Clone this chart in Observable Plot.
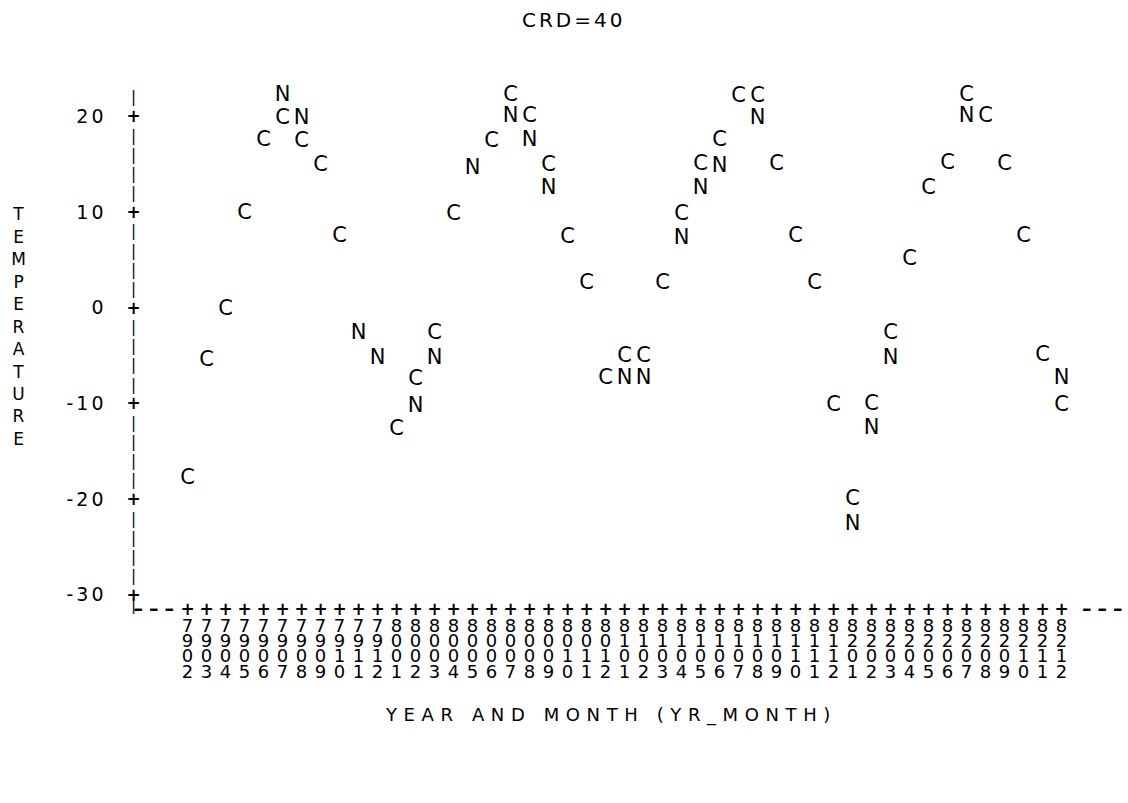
<!DOCTYPE html>
<html>
<head>
<meta charset="utf-8">
<script src="https://cdn.jsdelivr.net/npm/d3@7"></script>
<script src="https://cdn.jsdelivr.net/npm/@observablehq/plot@0.6"></script>
<style>
  html, body { margin: 0; padding: 0; background: #fff; }
  body { width: 1128px; height: 803px; overflow: hidden; font-family: "DejaVu Sans", sans-serif; color: #000; }
  #title { height: 40px; line-height: 40px; font-size: 20px; letter-spacing: 3px; padding-left: 522px; }
  #xlabel { margin-top: 19px; line-height: 24px; font-size: 18px; letter-spacing: 6.6px; padding-left: 386px; white-space: nowrap; }
  svg { display: block; }
</style>
</head>
<body>
<div id="title">CRD=40</div>
<div id="chart"></div>
<div id="xlabel">YEAR AND MONTH (YR_MONTH)</div>
<script>
// Monthly observations, Feb 1979 – Dec 1982 (YYMM)
const months = [
  "7902","7903","7904","7905","7906","7907","7908","7909","7910","7911","7912",
  "8001","8002","8003","8004","8005","8006","8007","8008","8009","8010","8011","8012",
  "8101","8102","8103","8104","8105","8106","8107","8108","8109","8110","8111","8112",
  "8201","8202","8203","8204","8205","8206","8207","8208","8209","8210","8211","8212"
];

// Temperature plotted with symbol C
const cTemp = [
  -17.7, -5.3, 0.0, 10.0, 17.7, 20.0, 17.5, 15.0, 7.6, null, null,
  -12.5, -7.3, -2.5, 9.9, null, 17.5, 22.4, 20.2, 15.0, 7.5, 2.7, -7.2,
  -4.9, -4.9, 2.7, 9.9, 15.1, 17.6, 22.2, 22.2, 15.1, 7.6, 2.7, -10.0,
  -19.9, -9.9, -2.5, 5.2, 12.6, 15.2, 22.4, 20.2, 15.1, 7.6, -4.8, -10.0
];

// Temperature plotted with symbol N
const nTemp = [
  null, null, null, null, null, 22.4, 20.0, null, null, -2.5, -5.1,
  null, -10.1, -5.1, null, 14.7, null, 20.2, 17.6, 12.6, null, null, null,
  -7.2, -7.2, null, 7.4, 12.6, 14.9, null, 19.9, null, null, null, null,
  -22.5, -12.4, -5.1, null, null, null, 20.2, null, null, null, null, -7.2
];

const yTicks = [20, 10, 0, -10, -20, -30];
const yLabel = "TEMPERATURE";

const rows = months.map((m, i) => ({month: m, c: cTemp[i], n: nTemp[i]}));

// printer-style axis: a "|" on every line between the "+" ticks, one more below -30
const axisLines = [-31, ...d3.range(-28, 24, 2).filter(v => v % 10 !== 0)];

const font = "DejaVu Sans";

const chart = Plot.plot({
  width: 1128,
  height: 644,
  marginLeft: 133,
  marginRight: 0,
  marginTop: 38,
  marginBottom: 70,
  style: {fontFamily: font, fontSize: "19px", color: "#000", background: "#fff"},
  x: {type: "point", domain: months, padding: 0, insetLeft: 54, insetRight: 67},
  y: {domain: [-32, 24]},
  marks: [
    // horizontal axis: dashes at both ends, a "+" on every month
    Plot.text(["–––"], {frameAnchor: "bottom-left", textAnchor: "start", fontSize: 19, fontWeight: "bold"}),
    Plot.text(["–––"], {frameAnchor: "bottom-right", textAnchor: "end", fontSize: 19, fontWeight: "bold"}),
    Plot.text(months, {x: d => d, frameAnchor: "bottom", text: () => "+", fontSize: 17, fontWeight: "bold"}),
    Plot.axisX({
      tickSize: 0,
      tickPadding: 7,
      tickFormat: d => d.split("").join("\n"),
      lineHeight: 0.84,
      fontSize: 18,
      label: null
    }),
    // vertical axis
    Plot.text(axisLines, {y: d => d, frameAnchor: "left", textAnchor: "middle", text: () => "|", fontSize: 15}),
    Plot.text(yTicks, {y: d => d, frameAnchor: "left", textAnchor: "middle", text: () => "+", fontSize: 17, fontWeight: "bold"}),
    Plot.axisY(yTicks, {
      tickSize: 0,
      tickPadding: 27,
      tickFormat: d => String(d),
      fontSize: 19,
      label: null
    }),
    Plot.text([yLabel], {
      frameAnchor: "top-left",
      dx: -115,
      dy: 126,
      textAnchor: "middle",
      lineAnchor: "top",
      lineHeight: 1.32,
      fontSize: 17,
      text: d => d.split("").join("\n")
    }),
    // data symbols
    Plot.text(rows, {x: "month", y: "c", text: () => "C", fontSize: 21, fill: "#000"}),
    Plot.text(rows, {x: "month", y: "n", text: () => "N", fontSize: 21, fill: "#000"})
  ]
});

// printed look: spaced digits on the value labels, spaced dashes on the axis ends
d3.select(chart).selectAll('g[aria-label="y-axis tick label"] text').style("letter-spacing", "3px");
d3.select(chart).selectAll("text").filter(function() { return this.textContent === "–––"; })
  .style("letter-spacing", "6px");

document.getElementById("chart").appendChild(chart);
</script>
</body>
</html>
